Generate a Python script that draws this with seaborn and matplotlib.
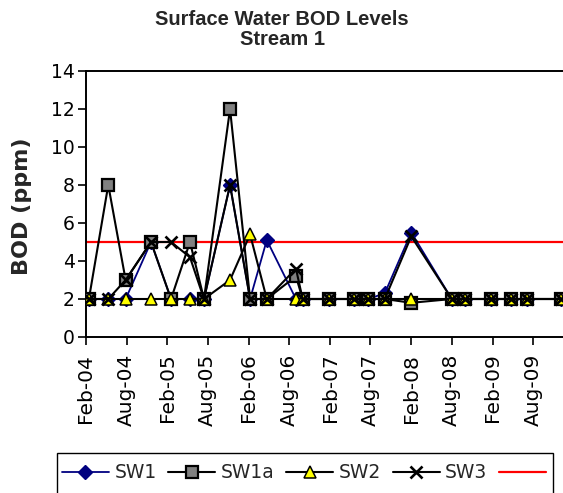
import matplotlib
matplotlib.use("Agg")
import matplotlib.pyplot as plt
import matplotlib.dates as mdates
from matplotlib.patches import Rectangle
import pandas as pd
import seaborn as sns

# Sampling dates and BOD readings (ppm) for each station on Stream 1
sample_dates = [
    "2004-02-14", "2004-05-11", "2004-07-28", "2004-11-19", "2005-02-17",
    "2005-05-13", "2005-07-15", "2005-11-09", "2006-02-07", "2006-04-23",
    "2006-09-01", "2006-10-01", "2007-01-29", "2007-05-19", "2007-07-22",
    "2007-10-05", "2008-02-01", "2008-08-01", "2008-09-29", "2009-01-24",
    "2009-04-24", "2009-07-03", "2009-12-05",
]
sw1 = [2, 2, 2, 5, 2, 2, 2, 8, 2, 5.1, 2, 2, 2, 2, 2, 2.3, 5.5, 2, 2, 2, 2, 2, 2]
sw1a = [2, 8, 3, 5, 2, 5, 2, 12, 2, 2, 3.2, 2, 2, 2, 2, 2, 1.8, 2, 2, 2, 2, 2, 2]
sw2 = [2, 2, 2, 2, 2, 2, 2, 3, 5.4, 2, 2, 2, 2, 2, 2, 2, 2, 2, 2, 2, 2, 2, 2]
sw3 = [2, 2, 3, 5, 5, 4.2, 2, 8, 2, 2, 3.6, 2, 2, 2, 2, 2, 5.3, 2, 2, 2, 2, 2, 2]
bod_limit = 5
y_ticks = [0, 2, 4, 6, 8, 10, 12, 14]

df = pd.DataFrame({
    "date": pd.to_datetime(sample_dates),
    "SW1": sw1, "SW1a": sw1a, "SW2": sw2, "SW3": sw3,
})

sns.set_style("white")
plt.rcParams["font.family"] = ["DejaVu Sans"]

W, H = 563, 493
fig = plt.figure(figsize=(W / 100, H / 100), dpi=100)
ax = fig.add_axes([86 / W, 1 - 337 / H, 480 / W, 266 / H])

styles = {
    "SW1": dict(color="#000080", lw=1.3, marker="D", markersize=7,
                markerfacecolor="#000080", markeredgecolor="#000080", markeredgewidth=1),
    "SW1a": dict(color="black", lw=1.5, marker="s", markersize=8.6,
                 markerfacecolor="#808080", markeredgecolor="black", markeredgewidth=1.6),
    "SW2": dict(color="black", lw=1.5, marker="^", markersize=8.6,
                markerfacecolor="#FFFF00", markeredgecolor="black", markeredgewidth=1.1),
    "SW3": dict(color="black", lw=1.5, marker="x", markersize=9,
                markerfacecolor="black", markeredgecolor="black", markeredgewidth=1.9),
}
for name, kw in styles.items():
    sns.lineplot(data=df, x="date", y=name, ax=ax, label=name,
                 errorbar=None, sort=False, zorder=3, **kw)

ax.axhline(bod_limit, color="#FF0000", lw=1.6, label=" ", zorder=2)

start = pd.Timestamp("2004-02-01")
ax.set_xlim(start, start + pd.Timedelta(days=2156))
ax.set_ylim(0, 14)
ax.set_yticks(y_ticks)
ax.xaxis.set_major_locator(mdates.MonthLocator(bymonth=[2, 8], bymonthday=1))
ax.xaxis.set_major_formatter(mdates.DateFormatter("%b-%y"))
ax.tick_params(axis="both", direction="out", length=6, width=1.2,
               color="black", labelcolor="black", bottom=True, left=True)
ax.tick_params(axis="x", rotation=90, pad=6, labelsize=14.5)
ax.tick_params(axis="y", pad=2, labelsize=13.5)
for sp in ax.spines.values():
    sp.set_visible(True)
    sp.set_color("black")
    sp.set_linewidth(1.4)

ax.set_xlabel("")
ax.set_ylabel("BOD (ppm)", fontsize=16, fontweight="bold")
ax.yaxis.set_label_coords(-0.112, 0.49)

fig.text(282 / W, 1 - 10 / H, "Surface Water BOD Levels\nStream 1",
         ha="center", va="top", family=["Liberation Sans"], fontweight="bold",
         fontsize=14.5, linespacing=1.05)

# Legend row with a plain rectangular frame running off the bottom edge
handles, labels = ax.get_legend_handles_labels()
ax.get_legend().remove()
fig.legend(handles, labels, loc="center left",
           bbox_to_anchor=(62 / W, 1 - 473 / H), ncol=5, frameon=False,
           handlelength=2.5, handletextpad=0.3, columnspacing=0.62,
           fontsize=13.5, borderpad=0, borderaxespad=0)
fig.add_artist(Rectangle((57 / W, -0.05), 496 / W, 1 - 452.5 / H + 0.05,
                         transform=fig.transFigure, fill=False,
                         edgecolor="black", linewidth=1.0, clip_on=False))

fig.savefig("out.png", dpi=100)
